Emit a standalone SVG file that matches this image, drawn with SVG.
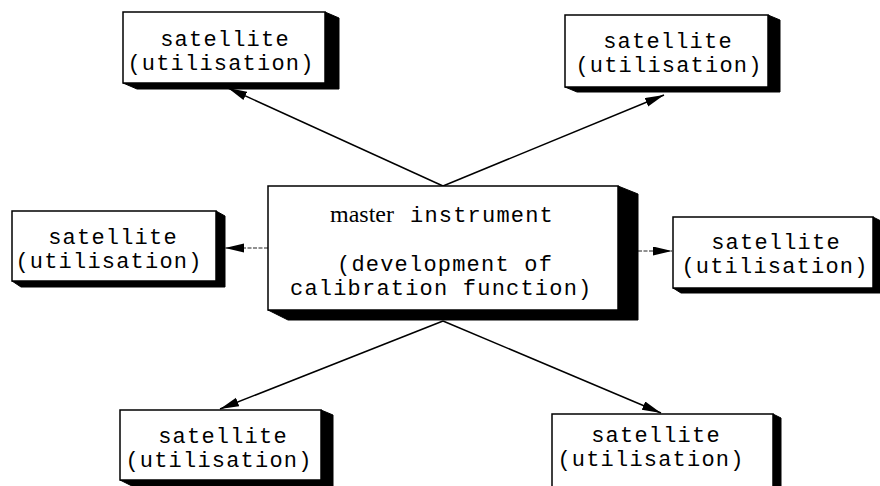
<svg xmlns="http://www.w3.org/2000/svg" width="880" height="486" viewBox="0 0 880 486">
  <style>
    .face { fill: #ffffff; stroke: #000000; stroke-width: 1.5; }
    .side { fill: #000000; stroke: #000000; stroke-width: 1; stroke-linejoin: round; }
    .mono { font-family: "Liberation Mono", "Courier New", monospace; font-size: 22px; letter-spacing: 1.2px; fill: #000000; }
    .serif { font-family: "Liberation Serif", "Times New Roman", serif; font-size: 24px; fill: #000000; }
    .link { stroke: #000000; stroke-width: 1.5; fill: none; }
    .thin { stroke: #222222; stroke-width: 1; fill: none; stroke-dasharray: 4 1.5; }
  </style>
  <defs>
    <marker id="arrow" markerUnits="userSpaceOnUse" markerWidth="20" markerHeight="10" refX="19" refY="4.5" orient="auto">
      <path d="M0,0 L19,4.5 L0,9 Z" fill="#000000"/>
    </marker>
  </defs>
  <rect width="880" height="486" fill="#ffffff"/>

  <!-- connectors -->
  <g id="connectors">
    <line class="link" x1="443" y1="186" x2="228" y2="88" marker-end="url(#arrow)"/>
    <line class="link" x1="443" y1="186" x2="664" y2="95" marker-end="url(#arrow)"/>
    <line class="thin" x1="268" y1="248" x2="225" y2="248" marker-end="url(#arrow)"/>
    <line class="thin" x1="638" y1="251" x2="672" y2="251" marker-end="url(#arrow)"/>
    <line class="link" x1="443" y1="321" x2="220" y2="409" marker-end="url(#arrow)"/>
    <line class="link" x1="443" y1="321" x2="661" y2="413" marker-end="url(#arrow)"/>
  </g>

  <!-- master instrument -->
  <g id="master">
    <polygon class="side" points="618,186 638,194 638,320 288,320 268,310 618,310"/>
    <rect class="face" x="268" y="186" width="350" height="124"/>
    <text x="330" y="222"><tspan class="serif">master</tspan><tspan class="mono" x="410">instrument</tspan></text>
    <text class="mono"><tspan x="337" y="271">(development of</tspan><tspan x="290" y="295">calibration function)</tspan></text>
  </g>

  <!-- satellite, top left -->
  <g id="sat-top-left">
    <polygon class="side" points="325,12 339,18 339,89 137,89 123,83 325,83"/>
    <rect class="face" x="123" y="12" width="202" height="71"/>
    <text class="mono" text-anchor="middle"><tspan x="225" y="46">satellite</tspan><tspan x="221" y="70">(utilisation)</tspan></text>
  </g>

  <!-- satellite, top right -->
  <g id="sat-top-right">
    <polygon class="side" points="768,15 780,20 780,92 577,92 565,87 768,87"/>
    <rect class="face" x="565" y="15" width="203" height="72"/>
    <text class="mono" text-anchor="middle"><tspan x="668" y="48">satellite</tspan><tspan x="669" y="72">(utilisation)</tspan></text>
  </g>

  <!-- satellite, left -->
  <g id="sat-left">
    <polygon class="side" points="216,211 225,216 225,287 21,287 12,281 216,281"/>
    <rect class="face" x="12" y="211" width="204" height="70"/>
    <text class="mono" text-anchor="middle"><tspan x="113" y="244">satellite</tspan><tspan x="109" y="268">(utilisation)</tspan></text>
  </g>

  <!-- satellite, right -->
  <g id="sat-right">
    <polygon class="side" points="873,217 881,221 881,293 681,293 673,288 873,288"/>
    <rect class="face" x="673" y="217" width="200" height="71"/>
    <text class="mono" text-anchor="middle"><tspan x="776" y="249">satellite</tspan><tspan x="775" y="273">(utilisation)</tspan></text>
  </g>

  <!-- satellite, bottom left -->
  <g id="sat-bottom-left">
    <polygon class="side" points="321,410 333,415 333,486 132,486 120,480 321,480"/>
    <rect class="face" x="120" y="410" width="201" height="70"/>
    <text class="mono" text-anchor="middle"><tspan x="223" y="443">satellite</tspan><tspan x="219" y="467">(utilisation)</tspan></text>
  </g>

  <!-- satellite, bottom right -->
  <g id="sat-bottom-right">
    <polygon class="side" points="773,414 781,418 781,492 560,492 552,488 773,488"/>
    <rect class="face" x="552" y="414" width="221" height="74"/>
    <text class="mono" text-anchor="middle"><tspan x="656" y="442">satellite</tspan><tspan x="651" y="466">(utilisation)</tspan></text>
  </g>
</svg>
